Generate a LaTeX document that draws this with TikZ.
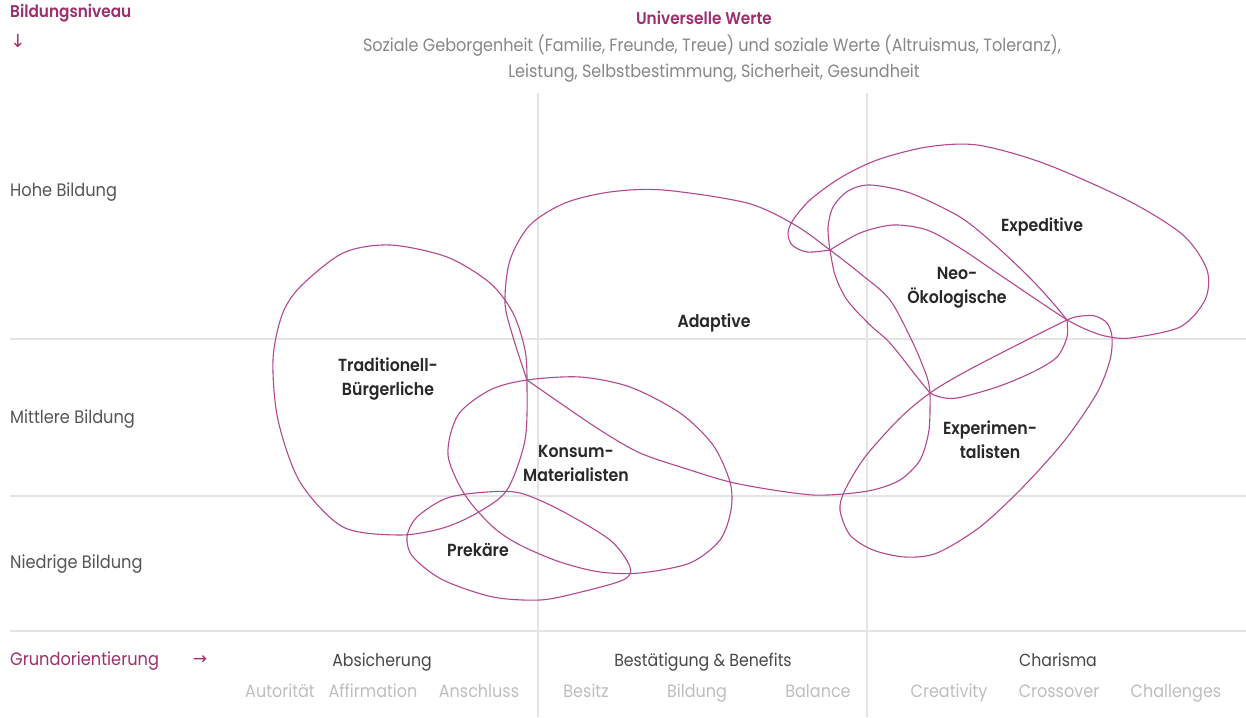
\documentclass[tikz,border=0pt]{standalone}
\usepackage{fontspec}
\setmainfont{Poppins}[FakeStretch=0.9, BoldFont={Poppins SemiBold}]
\newfontfamily\sym{DejaVu Sans}
\definecolor{mag}{RGB}{158,47,110}
\definecolor{blob}{RGB}{180,72,142}
\definecolor{gridc}{RGB}{228,228,228}
\definecolor{darktxt}{RGB}{40,40,40}
\definecolor{midtxt}{RGB}{85,85,85}
\definecolor{greytxt}{RGB}{135,135,135}
\definecolor{lighttxt}{RGB}{190,190,190}
\tikzset{
  gridline/.style={gridc, line width=1.2pt},
  outline/.style={blob, line width=1.1pt},
  rowlabel/.style={anchor=west, inner sep=0pt, text=midtxt, font=\fontsize{18}{21}\selectfont},
  headmag/.style={inner sep=0pt, text=mag, font=\bfseries\fontsize{17}{20}\selectfont},
  greyline/.style={inner sep=0pt, text=greytxt, font=\fontsize{17.8}{21}\selectfont},
  milieu/.style={inner sep=0pt, align=center, text=darktxt, font=\bfseries\fontsize{17.5}{24}\selectfont},
  orient/.style={inner sep=0pt, anchor=base, text=darktxt!85, font=\fontsize{17.5}{20}\selectfont},
  suborient/.style={inner sep=0pt, anchor=base, text=lighttxt, font=\fontsize{17.8}{20}\selectfont},
}
\begin{document}
\begin{tikzpicture}[x=1pt,y=-1pt]
\useasboundingbox (0,0) rectangle (1246,717);
\fill[white] (0,0) rectangle (1246,717);
% grid
\coordinate (v1t) at (538,93);  \coordinate (v1b) at (538,717);
\coordinate (v2t) at (867,93);  \coordinate (v2b) at (867,717);
\coordinate (h1l) at (10,339);  \coordinate (h1r) at (1246,339);
\coordinate (h2l) at (10,496);  \coordinate (h2r) at (1246,496);
\coordinate (h3l) at (10,631);  \coordinate (h3r) at (1246,631);
\draw[gridline] (v1t) -- (v1b);
\draw[gridline] (v2t) -- (v2b);
\draw[gridline] (h1l) -- (h1r);
\draw[gridline] (h2l) -- (h2r);
\draw[gridline] (h3l) -- (h3r);

% Traditionell-Buergerliche
\draw[outline] plot[smooth cycle] coordinates {(390,245) (447,257) (490,283) (513,313) (525,350) (527,385) (525,440) (507,490) (477,513) (443,528) (400,535) (343,527) (300,482) (278,420) (273,360) (282,315) (300,287) (343,253)};
% Konsum-Materialisten
\draw[outline] plot[smooth cycle] coordinates {(527,380) (580,377) (630,387) (680,413) (713,445) (730,482) (731,510) (720,540) (690,563) (640,573) (600,572) (560,562) (520,545) (493,527) (465,495) (448,455) (458,415) (490,390)};
% Prekaere
\draw[outline] plot[smooth cycle] coordinates {(407,537) (417,517) (447,498) (487,492) (520,493) (560,510) (610,540) (630,567) (623,580) (577,593) (540,600) (493,597) (443,580) (413,557)};
% Adaptive
\draw[outline] plot[smooth] coordinates {(527,380) (513,337) (505,303) (510,260) (530,225) (565,203) (610,192) (663,190) (747,203) (795,225) (830,250) (862,275) (890,300) (913,343) (927,377) (930,393)};
\draw[outline] plot[smooth] coordinates {(930,393) (929,430) (920,460) (900,480) (873,490) (843,494) (813,495) (773,490) (730,482) (690,470) (640,453) (600,430) (563,405) (527,380)};
% Expeditive outer loop
\draw[outline] plot[smooth] coordinates {(830,250) (807,252) (792,245) (788,233) (793,220) (810,200) (840,178) (877,160) (927,147) (977,145) (1043,163) (1127,200) (1183,235) (1207,270) (1205,300) (1180,327) (1130,338) (1105,336) (1085,329) (1067,320)};
% inner curves
\draw[outline] plot[smooth] coordinates {(830,250) (828,228) (833,207) (848,191) (870,185) (910,193) (960,217) (995,245) (1030,278) (1053,303) (1067,320)};
\draw[outline] plot[smooth] coordinates {(830,250) (860,233) (893,225) (927,230) (960,248) (1000,275) (1040,302) (1067,320)};
\draw[outline] plot[smooth] coordinates {(1067,320) (1067,337) (1057,357) (1033,372) (997,387) (957,398) (940,397) (930,393)};
\draw[outline] plot[smooth] coordinates {(930,393) (917,377) (890,343) (870,325) (847,300) (835,275) (830,250)};
% Experimentalisten
\draw[outline] plot[smooth cycle] coordinates {(930,393) (963,373) (1013,347) (1067,320) (1082,316) (1095,316) (1107,323) (1112,337) (1110,360) (1097,393) (1065,440) (1023,487) (980,527) (937,553) (905,557) (873,550) (850,535) (840,510) (845,490) (865,457) (900,418)};

% header
\node[headmag, anchor=west] (bn) at (10,13) {Bildungsniveau};
\node[inner sep=0pt, text=mag, font=\sym\fontsize{18}{20}\selectfont] (bnarrow) at (18,41) {↓};
\node[headmag] (uw) at (704,18) {Universelle Werte};
\node[greyline] (uw1) at (712,46) {Soziale Geborgenheit (Familie, Freunde, Treue) und soziale Werte (Altruismus, Toleranz),};
\node[greyline] (uw2) at (714,73) {Leistung, Selbstbestimmung, Sicherheit, Gesundheit};

% rows
\node[rowlabel] (hb) at (10,192) {Hohe Bildung};
\node[rowlabel] (mb) at (10,419) {Mittlere Bildung};
\node[rowlabel] (nb) at (10,564) {Niedrige Bildung};

% milieus
\node[milieu] (tb) at (388,379) {Traditionell-\\Bürgerliche};
\node[milieu] (km) at (576,463) {Konsum-\\Materialisten};
\node[milieu] (pk) at (478,550) {Prekäre};
\node[milieu] (ad) at (714,323) {Adaptive};
\node[milieu] (ex) at (1042,227) {Expeditive};
\node[milieu] (no) at (957,288) {Neo-\\Ökologische};
\node[milieu] (xp) at (990,440) {Experimen-\\talisten};

% bottom
\node[inner sep=0pt, anchor=west, text=mag, font=\fontsize{18}{21}\selectfont] (go) at (10,661) {Grundorientierung};
\node[inner sep=0pt, text=mag, font=\sym\fontsize{17}{20}\selectfont] (goarrow) at (200,660) {→};
\node[orient] (o1) at (382,666) {Absicherung};
\node[orient] (o2) at (703,666) {Bestätigung \& Benefits};
\node[orient] (o3) at (1058,666) {Charisma};
\node[suborient] (s1) at (280,697) {Autorität};
\node[suborient] (s2) at (373,697) {Affirmation};
\node[suborient] (s3) at (479,697) {Anschluss};
\node[suborient] (s4) at (586,697) {Besitz};
\node[suborient] (s5) at (697,697) {Bildung};
\node[suborient] (s6) at (818,697) {Balance};
\node[suborient] (s7) at (949,697) {Creativity};
\node[suborient] (s8) at (1059,697) {Crossover};
\node[suborient] (s9) at (1176,697) {Challenges};
\end{tikzpicture}
\end{document}
